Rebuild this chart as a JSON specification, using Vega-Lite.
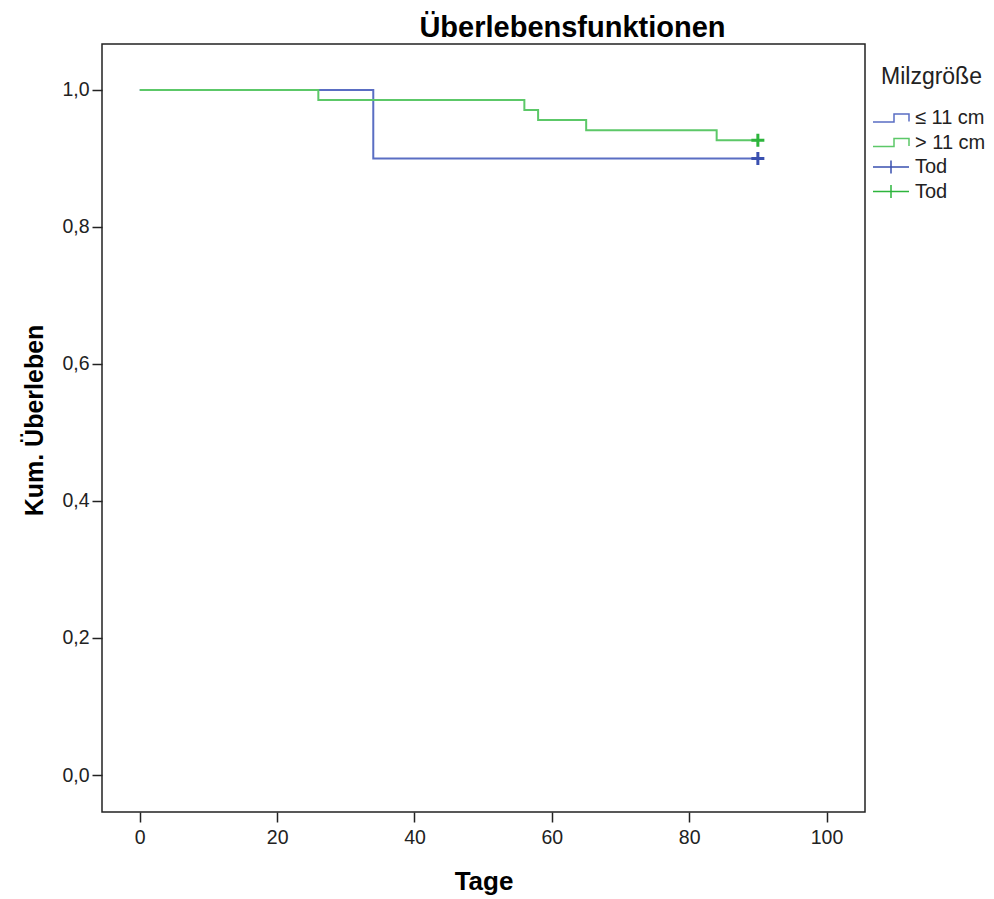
{
  "$schema": "https://vega.github.io/schema/vega-lite/v6.json",
  "width": 763,
  "height": 768,
  "autosize": {"type": "none"},
  "padding": {"left": 102, "top": 44, "right": 129, "bottom": 87},
  "background": "white",
  "config": {
    "font": "Liberation Sans",
    "view": {"stroke": "#222", "strokeWidth": 1.5},
    "axis": {
      "grid": false,
      "domain": false,
      "tickColor": "#222",
      "tickSize": 10,
      "tickWidth": 1.5,
      "labelFont": "Liberation Sans",
      "labelFontSize": 19.5,
      "labelColor": "#222",
      "titleFont": "Liberation Sans",
      "titleFontWeight": "bold",
      "titleColor": "#000"
    },
    "legend": {
      "orient": "none",
      "legendX": 779,
      "legendY": 22,
      "titleFont": "Liberation Sans",
      "titleFontSize": 23,
      "titleFontWeight": "normal",
      "titleColor": "#222",
      "titlePadding": 19,
      "labelFont": "Liberation Sans",
      "labelFontSize": 20,
      "labelColor": "#222",
      "labelOffset": 14,
      "rowPadding": 4.5,
      "symbolSize": 144,
      "symbolStrokeWidth": 1.5,
      "symbolOpacity": 1
    }
  },
  "title": {
    "text": "Überlebensfunktionen",
    "font": "Liberation Sans",
    "fontSize": 29,
    "fontWeight": "bold",
    "color": "#000",
    "anchor": "middle",
    "dx": 89,
    "offset": 1
  },
  "datasets": {
    "curves": [
      {"t": 0, "s": 1.0, "g": "≤ 11 cm"},
      {"t": 34, "s": 0.9, "g": "≤ 11 cm"},
      {"t": 90, "s": 0.9, "g": "≤ 11 cm"},
      {"t": 0, "s": 1.0, "g": "> 11 cm"},
      {"t": 26, "s": 0.9853, "g": "> 11 cm"},
      {"t": 56, "s": 0.9706, "g": "> 11 cm"},
      {"t": 58, "s": 0.9559, "g": "> 11 cm"},
      {"t": 65, "s": 0.9412, "g": "> 11 cm"},
      {"t": 84, "s": 0.9265, "g": "> 11 cm"},
      {"t": 90, "s": 0.9265, "g": "> 11 cm"}
    ],
    "censor": [
      {"t": 90, "s": 0.9, "g": "Tod ≤"},
      {"t": 90, "s": 0.9265, "g": "Tod >"}
    ],
    "legend": [
      {"g": "≤ 11 cm"},
      {"g": "> 11 cm"},
      {"g": "Tod ≤"},
      {"g": "Tod >"}
    ]
  },
  "layer": [
    {
      "data": {"name": "curves"},
      "mark": {"type": "line", "interpolate": "step-after", "strokeWidth": 2},
      "encoding": {
        "x": {
          "field": "t", "type": "quantitative",
          "scale": {"domain": [-5.5, 105.6], "nice": false, "zero": false},
          "axis": {"values": [0, 20, 40, 60, 80, 100], "title": "Tage", "titleFontSize": 26, "titlePadding": 22, "labelPadding": 6}
        },
        "y": {
          "field": "s", "type": "quantitative",
          "scale": {"domain": [-0.054, 1.067], "nice": false, "zero": false},
          "axis": {
            "values": [0, 0.2, 0.4, 0.6, 0.8, 1.0],
            "labelExpr": "replace(format(datum.value, '.1f'), '.', ',')",
            "title": "Kum. Überleben", "titleFontSize": 25, "titlePadding": 14, "labelPadding": 3, "titleY": 376
          }
        },
        "color": {
          "field": "g", "type": "nominal",
          "scale": {"domain": ["≤ 11 cm", "> 11 cm", "Tod ≤", "Tod >"], "range": ["#5a6ec3", "#5cc868", "#3a50b0", "#2db53c"]},
          "legend": {"title": "Milzgröße", "labelExpr": "indexof(datum.label, 'Tod') == 0 ? 'Tod' : datum.label"}
        },
        "detail": {"field": "g"}
      }
    },
    {
      "data": {"name": "censor"},
      "mark": {"type": "point", "shape": "M-1,0H1M0,-1V1", "size": 169, "strokeWidth": 3, "filled": false, "opacity": 1},
      "encoding": {
        "x": {"field": "t", "type": "quantitative"},
        "y": {"field": "s", "type": "quantitative"},
        "color": {"field": "g", "type": "nominal", "legend": {"title": "Milzgröße", "labelExpr": "indexof(datum.label, 'Tod') == 0 ? 'Tod' : datum.label"}}
      }
    },
    {
      "data": {"name": "legend"},
      "mark": {"type": "point", "filled": false, "opacity": 0, "size": 144},
      "encoding": {
        "color": {
          "field": "g", "type": "nominal",
          "legend": {"title": "Milzgröße", "labelExpr": "indexof(datum.label, 'Tod') == 0 ? 'Tod' : datum.label"}
        },
        "shape": {
          "field": "g", "type": "nominal",
          "scale": {
            "domain": ["≤ 11 cm", "> 11 cm", "Tod ≤", "Tod >"],
            "range": ["M-3,0.67H0.5V-0.67H3V0.6", "M-3,0.67H0.5V-0.67H3V0.6", "M-3,0H3M0,-1.1V1.1", "M-3,0H3M0,-1.1V1.1"]
          },
          "legend": {"title": "Milzgröße", "labelExpr": "indexof(datum.label, 'Tod') == 0 ? 'Tod' : datum.label"}
        }
      }
    }
  ]
}
